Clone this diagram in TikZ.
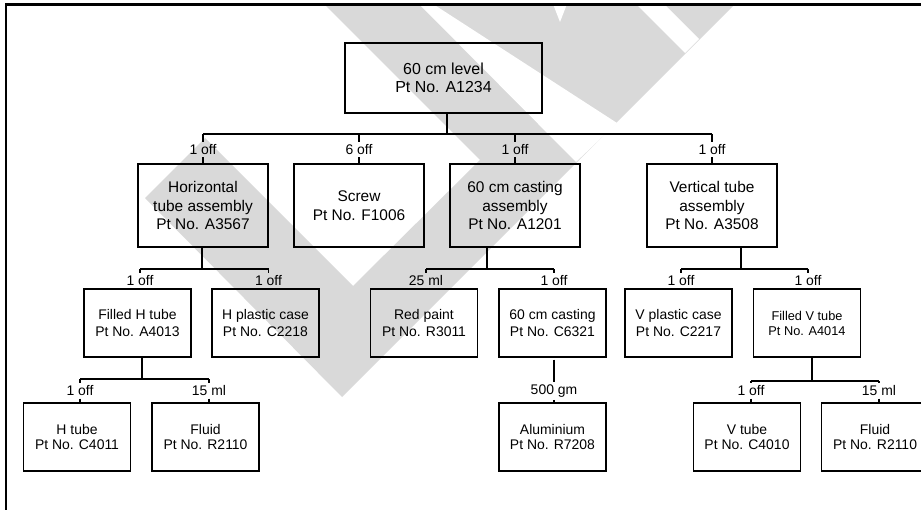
\documentclass[tikz,border=0pt]{standalone}
\usepackage{fontspec}
\setmainfont{Liberation Sans}
\definecolor{wmark}{RGB}{217,217,217}
\begin{document}
\begin{tikzpicture}[x=1bp,y=-1bp,line width=1.2bp,
  box/.style={draw,inner sep=0pt,align=center,minimum width=107bp,minimum height=68bp,
    font=\fontsize{14}{17}\selectfont},
  asm/.style={box,minimum width=130bp,minimum height=83bp,font=\fontsize{15.5}{19}\selectfont},
  rootbox/.style={box,minimum width=197bp,minimum height=70bp,font=\fontsize{16}{18.5}\selectfont},
  leaf/.style={box,font=\fontsize{14}{16}\selectfont},
  small/.style={box,font=\fontsize{12.8}{15}\selectfont},
  qty/.style={inner sep=2bp,font=\fontsize{14}{16}\selectfont}]
\useasboundingbox (0,0) rectangle (921,510);

% background mark
\fill[wmark] (145,198) -- (205,138) -- (353,286) -- (480,160) -- (324,4) -- (735,4) -- (342,397) -- cycle;
\fill[white] (419,4) -- (433,4) -- (617,123) -- (576,162) -- cycle;
\fill[white] (553,4) -- (567,4) -- (560,22) -- cycle;
\fill[white] (636,4) -- (664,4) -- (699,39) -- (685,53) -- cycle;

% frame
\draw[line width=2.5bp,line join=miter] (6,510) -- (6,4.7) -- (921,4.7);

% parts
\node[rootbox] (root) at (443.5,78) {60 cm level\\Pt No. A1234};

\node[asm] (hta) at (203,205.5) {Horizontal\\tube assembly\\Pt No. A3567};
\node[asm] (scr) at (359,205.5) {Screw\\Pt No. F1006};
\node[asm] (cas) at (515,205.5) {60 cm casting\\assembly\\Pt No. A1201};
\node[asm] (vta) at (712,205.5) {Vertical tube\\assembly\\Pt No. A3508};

\node[box] (fht) at (137.5,323) {Filled H tube\\Pt No. A4013};
\node[box] (hpc) at (265.5,323) {H plastic case\\Pt No. C2218};
\node[box] (red) at (424,323) {Red paint\\Pt No. R3011};
\node[box] (c60) at (552.5,323) {60 cm casting\\Pt No. C6321};
\node[box] (vpc) at (678.5,323) {V plastic case\\Pt No. C2217};
\node[small] (fvt) at (807,323) {Filled V tube\\Pt No. A4014};

\node[leaf] (ht)  at (77,437)    {H tube\\Pt No. C4011};
\node[leaf] (fl1) at (205.5,437) {Fluid\\Pt No. R2110};
\node[leaf] (alu) at (552.5,437) {Aluminium\\Pt No. R7208};
\node[leaf] (vt)  at (747,437)   {V tube\\Pt No. C4010};
\node[leaf] (fl2) at (875,437)   {Fluid\\Pt No. R2110};

% quantities
\node[qty] (q1) at ([yshift=14bp]hta.north) {1 off};
\node[qty] (q2) at ([yshift=14bp]scr.north) {6 off};
\node[qty] (q3) at ([yshift=14bp]cas.north) {1 off};
\node[qty] (q4) at ([yshift=14bp]vta.north) {1 off};

\node[qty] (q5)  at ([xshift=2.5bp,yshift=8bp]fht.north) {1 off};
\node[qty] (q6)  at ([xshift=3bp,yshift=8bp]hpc.north) {1 off};
\node[qty] (q7)  at ([xshift=2bp,yshift=8bp]red.north) {25 ml};
\node[qty] (q8)  at ([xshift=1.5bp,yshift=8bp]c60.north) {1 off};
\node[qty] (q9)  at ([xshift=2.5bp,yshift=8bp]vpc.north) {1 off};
\node[qty] (q10) at ([xshift=1bp,yshift=8bp]fvt.north) {1 off};

\node[qty] (q11) at ([xshift=3bp,yshift=11.5bp]ht.north)  {1 off};
\node[qty] (q12) at ([xshift=3.5bp,yshift=11.5bp]fl1.north) {15 ml};
\node[qty] (q13) at ([xshift=1.5bp,yshift=11.5bp]alu.north) {500 gm};
\node[qty] (q14) at ([xshift=4bp,yshift=11.5bp]vt.north)  {1 off};
\node[qty] (q15) at ([xshift=4bp,yshift=11.5bp]fl2.north) {15 ml};

% junctions
\coordinate (j0) at (447,134);
\coordinate (jh) at (202,269);
\coordinate (jc) at (487,269);
\coordinate (jv) at (741,269);
\coordinate (jf) at (142,379);
\coordinate (jw) at (812,381);

% level 1
\draw (root.south -| j0) -- (j0);
\draw (q1 |- j0) -- (q4 |- j0);
\foreach \q/\p in {q1/hta,q2/scr,q3/cas,q4/vta}{
  \draw (\q |- j0) -- (\q.north);
  \draw (\q.south) -- (\q.south |- \p.north);
}

% level 2
\draw (hta.south -| jh) -- (jh);
\draw (q5 |- jh) -- (q6 |- jh);
\draw (cas.south -| jc) -- (jc);
\draw (q7 |- jc) -- (q8 |- jc);
\draw (vta.south -| jv) -- (jv);
\draw (q9 |- jv) -- (q10 |- jv);
\foreach \q/\p/\j in {q5/fht/jh,q6/hpc/jh,q7/red/jc,q8/c60/jc,q9/vpc/jv,q10/fvt/jv}{
  \draw (\q |- \j) -- (\q.north);
  \draw (\q.south) -- (\q.south |- \p.north);
}

% level 3
\draw (fht.south -| jf) -- (jf);
\draw (q11 |- jf) -- (q12 |- jf);
\draw (fvt.south -| jw) -- (jw);
\draw (q14 |- jw) -- (q15 |- jw);
\foreach \q/\p/\j in {q11/ht/jf,q12/fl1/jf,q14/vt/jw,q15/fl2/jw}{
  \draw (\q |- \j) -- (\q.north);
  \draw (\q.south) -- (\q.south |- \p.north);
}
\draw ([yshift=-2bp]c60.south -| q13) -- (q13.north);
\draw (q13.south) -- (q13.south |- alu.north);
\end{tikzpicture}
\end{document}
